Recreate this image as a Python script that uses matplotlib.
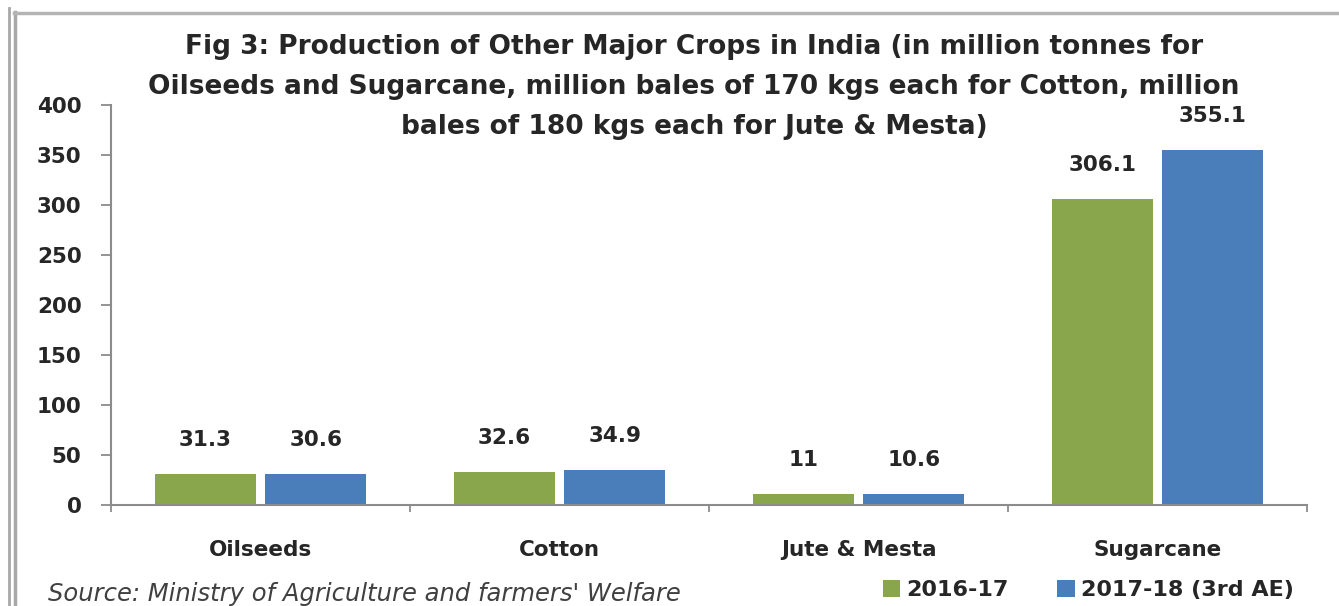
import matplotlib.pyplot as plt
import matplotlib as mpl
from matplotlib.patches import Patch
from matplotlib.lines import Line2D
import numpy as np

# --------------------------------------------------------------
# Data
# --------------------------------------------------------------

crops = ["Oilseeds", "Cotton", "Jute & Mesta", "Sugarcane"]
prod_2016_17 = [31.3, 32.6, 11, 306.1]
prod_2017_18 = [30.6, 34.9, 10.6, 355.1]
series_names = ["2016-17", "2017-18 (3rd AE)"]
y_ticks = [0, 50, 100, 150, 200, 250, 300, 350, 400]

title_lines = ["Fig 3: Production of Other Major Crops in India (in million tonnes for",
               "Oilseeds and Sugarcane, million bales of 170 kgs each for Cotton, million",
               "bales of 180 kgs each for Jute & Mesta)"]
source = "Source: Ministry of Agriculture and farmers' Welfare"

# --------------------------------------------------------------
# Settings
# --------------------------------------------------------------

mpl.rcParams["font.family"] = "DejaVu Sans"
green = "#8aa64c"
blue = "#4a7ebb"
axis_grey = "#8c8c8c"
text_col = "#262626"

W, H = 1339, 606
fig = plt.figure(figsize=(W / 100, H / 100), dpi=100)
ax = fig.add_axes([111 / W, 1 - 505 / H, (1307 - 111) / W, 400 / H])

# --------------------------------------------------------------
# Bars
# --------------------------------------------------------------

x = np.arange(len(crops))
bw = 0.338
off = 0.185
b1 = ax.bar(x - off, prod_2016_17, bw, color=green)
b2 = ax.bar(x + off, prod_2017_18, bw, color=blue)

for bars, vals in [(b1, prod_2016_17), (b2, prod_2017_18)]:
    for rect, v in zip(bars, vals):
        ax.annotate(f"{v:g}", (rect.get_x() + rect.get_width() / 2, v),
                    xytext=(0, 24.5), textcoords="offset points",
                    ha="center", va="center", fontsize=15.5,
                    fontweight="bold", color=text_col)

# --------------------------------------------------------------
# Axes
# --------------------------------------------------------------

ax.set_xlim(-0.5, 3.5)
ax.set_ylim(0, 400)
ax.set_yticks(y_ticks)
ax.set_xticks(x)
ax.set_xticklabels(crops)
ax.set_xticks(np.arange(-0.5, 4, 1), minor=True)

for s in ["top", "right"]:
    ax.spines[s].set_visible(False)
for s in ["left", "bottom"]:
    ax.spines[s].set_color(axis_grey)
    ax.spines[s].set_linewidth(1.5)

ax.tick_params(axis="y", direction="out", length=7.2, width=1.3, color=axis_grey,
               pad=14, labelsize=15.5, labelcolor=text_col)
ax.tick_params(axis="x", which="major", length=0, pad=25,
               labelsize=15.5, labelcolor=text_col)
ax.tick_params(axis="x", which="minor", direction="out", length=5,
               width=1.3, color=axis_grey)
for lbl in ax.get_xticklabels() + ax.get_yticklabels():
    lbl.set_fontweight("bold")

# --------------------------------------------------------------
# Title, legend, source
# --------------------------------------------------------------

for i, line in enumerate(title_lines):
    fig.text(694 / W, 1 - (47 + 40 * i) / H, line, ha="center", va="center",
             fontsize=19, fontweight="bold", color=text_col)

handles = [Patch(facecolor=green), Patch(facecolor=blue)]
leg = fig.legend(handles, series_names, loc="center",
                 bbox_to_anchor=(1088 / W, 1 - 590 / H), ncol=2, frameon=False,
                 handlelength=0.8, handleheight=0.8, handletextpad=0.25,
                 columnspacing=2.2, prop={"size": 16, "weight": "bold"})
for t in leg.get_texts():
    t.set_color(text_col)

fig.text(48 / W, 1 - 594 / H, source, ha="left", va="center", fontsize=17.5,
         style="italic", color="#404040")

# frame lines of the original screenshot
fig.add_artist(Line2D([9 / W, 9 / W], [0, 1 - 8 / H], transform=fig.transFigure,
                      color="#a8a8a8", lw=2))
fig.add_artist(Line2D([14.5 / W, 14.5 / W], [0, 1 - 12 / H], transform=fig.transFigure,
                      color="#a8a8a8", lw=2.5))
fig.add_artist(Line2D([14 / W, 1], [1 - 13 / H, 1 - 13 / H], transform=fig.transFigure,
                      color="#b4b4b4", lw=2.5))

fig.savefig("out.png", dpi=100)
